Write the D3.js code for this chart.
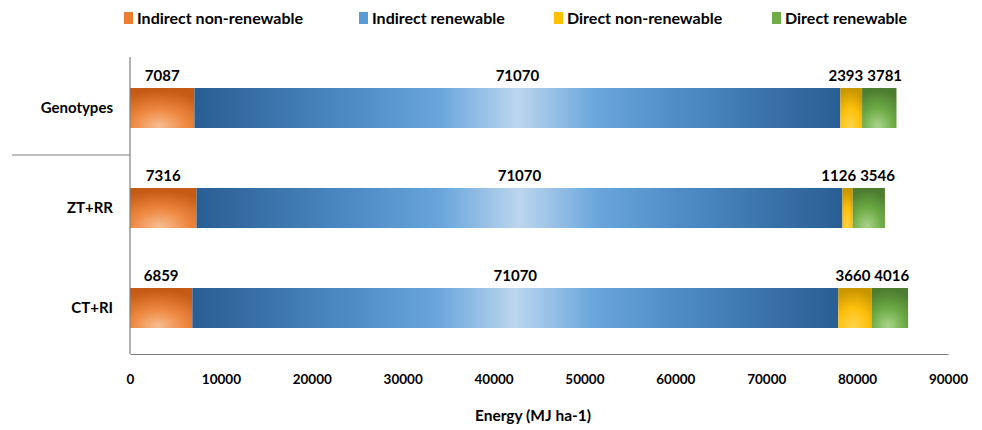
<!DOCTYPE html>
<html>
<head>
<meta charset="utf-8">
<script src="https://cdn.jsdelivr.net/npm/d3@7"></script>
<style>
  html, body { margin: 0; padding: 0; background: #fff; }
  text { font-family: Lato, "Open Sans", sans-serif; font-weight: bold; fill: #000; }
</style>
</head>
<body>
<svg id="chart" width="982" height="430"></svg>
<script>
// Energy inputs per treatment (MJ ha-1)
const categories = ["Genotypes", "ZT+RR", "CT+RI"];
const seriesNames = ["Indirect non-renewable", "Indirect renewable", "Direct non-renewable", "Direct renewable"];
const indirectNonRenewable = [7087, 7316, 6859];
const indirectRenewable = [71070, 71070, 71070];
const directNonRenewable = [2393, 1126, 3660];
const directRenewable = [3781, 3546, 4016];
const xTicks = [0, 10000, 20000, 30000, 40000, 50000, 60000, 70000, 80000, 90000];

const keys = ["inr", "ir", "dnr", "dr"];
const rows = categories.map((c, i) => ({
  cat: c,
  inr: indirectNonRenewable[i],
  ir: indirectRenewable[i],
  dnr: directNonRenewable[i],
  dr: directRenewable[i]
}));

const svg = d3.select("#chart");
const plotLeft = 130, plotRight = 948, plotTop = 57, axisY = 354;

const x = d3.scaleLinear().domain([0, 90000]).range([plotLeft, plotRight]);
const y = d3.scaleBand().domain(categories).range([58, 358]).paddingInner(0.6).paddingOuter(0.3);

// Gradients for each series
const defs = svg.append("defs");
function radial(id, stops) {
  const g = defs.append("radialGradient").attr("id", id)
    .attr("cx", "0.45").attr("cy", "1").attr("r", "0.95").attr("fx", "0.45").attr("fy", "0.95");
  stops.forEach(([o, c]) => g.append("stop").attr("offset", o).attr("stop-color", c));
}
radial("g-inr", [["0%", "#f6bd92"], ["45%", "#ee8840"], ["100%", "#c45a14"]]);
radial("g-dnr", [["0%", "#ffd34d"], ["50%", "#fdc00b"], ["100%", "#c99700"]]);
radial("g-dr", [["0%", "#a8d48a"], ["50%", "#6daa45"], ["100%", "#4d7d30"]]);
const lin = defs.append("linearGradient").attr("id", "g-ir")
  .attr("x1", "0").attr("x2", "1").attr("y1", "0").attr("y2", "0");
[["0%", "#285e93"], ["25%", "#4f8cc6"], ["38%", "#6aa6dc"], ["50%", "#bcd6ee"], ["62%", "#6aa6dc"], ["75%", "#4f8cc6"], ["100%", "#285e93"]]
  .forEach(([o, c]) => lin.append("stop").attr("offset", o).attr("stop-color", c));
const legendColors = { inr: "#ed7d31", ir: "#5b9bd5", dnr: "#ffc000", dr: "#70ad47" };

const stacked = d3.stack().keys(keys)(rows);

const layer = svg.append("g").selectAll("g").data(stacked).join("g")
  .attr("fill", d => `url(#g-${d.key})`);
layer.selectAll("rect").data(d => d).join("rect")
  .attr("x", d => x(d[0]))
  .attr("y", d => y(d.data.cat))
  .attr("width", d => x(d[1]) - x(d[0]))
  .attr("height", y.bandwidth());

// Value labels centred above each segment, nudged apart where they would collide
const labelG = svg.append("g");
rows.forEach((r, ri) => {
  const items = stacked.map(s => {
    const seg = s[ri];
    const t = labelG.append("text")
      .attr("y", y(r.cat) - 7)
      .attr("text-anchor", "middle")
      .attr("font-size", 15)
      .text(r[s.key]);
    return { t, cx: (x(seg[0]) + x(seg[1])) / 2, w: t.node().getComputedTextLength() };
  });
  const gap = 4;
  for (let pass = 0; pass < 5; pass++) {
    for (let i = 0; i < items.length - 1; i++) {
      const a = items[i], b = items[i + 1];
      const need = (a.w + b.w) / 2 + gap - (b.cx - a.cx);
      if (need > 0) { a.cx -= need / 2; b.cx += need / 2; }
    }
  }
  items.forEach(it => it.t.attr("x", it.cx));
});

// X axis
const xAxis = d3.axisBottom(x).tickValues(xTicks).tickSize(0).tickPadding(20).tickFormat(d3.format("d"));
const gx = svg.append("g").attr("transform", `translate(0,${axisY})`).call(xAxis);
gx.select(".domain").attr("stroke", "#7f7f7f").attr("stroke-width", 1.2);
gx.selectAll("text").attr("font-size", 13.5).attr("font-family", "Lato, sans-serif").attr("font-weight", "bold").attr("fill", "#000");

// Y axis: category labels plus the vertical line
const yAxis = d3.axisLeft(y).tickSize(0).tickPadding(17);
const gy = svg.append("g").attr("transform", `translate(${plotLeft},0)`).call(yAxis);
gy.select(".domain").remove();
gy.selectAll("text").attr("font-size", 15).attr("font-family", "Lato, sans-serif").attr("font-weight", "bold").attr("fill", "#000");
svg.append("line").attr("x1", plotLeft).attr("x2", plotLeft).attr("y1", plotTop).attr("y2", axisY)
  .attr("stroke", "#7f7f7f").attr("stroke-width", 1.2);

// Divider between the first category and the rest
const divY = (y("Genotypes") + y.bandwidth() + y("ZT+RR")) / 2 - 3;
svg.append("line").attr("x1", 12).attr("x2", plotLeft).attr("y1", divY).attr("y2", divY)
  .attr("stroke", "#7f7f7f").attr("stroke-width", 1.2);

// Axis title
svg.append("text").attr("x", (x(0) + x(90000)) / 2 - 6).attr("y", 421)
  .attr("text-anchor", "middle").attr("font-size", 15.5).text("Energy (MJ ha-1)");

// Legend
const legendX = [124, 359, 554, 772];
const leg = svg.append("g").selectAll("g").data(keys).join("g")
  .attr("transform", (d, i) => `translate(${legendX[i]},12)`);
leg.append("rect").attr("width", 9).attr("height", 12).attr("fill", d => legendColors[d]);
leg.append("text").attr("x", 13).attr("y", 11.5).attr("font-size", 16)
  .text((d, i) => seriesNames[i]);
</script>
</body>
</html>
